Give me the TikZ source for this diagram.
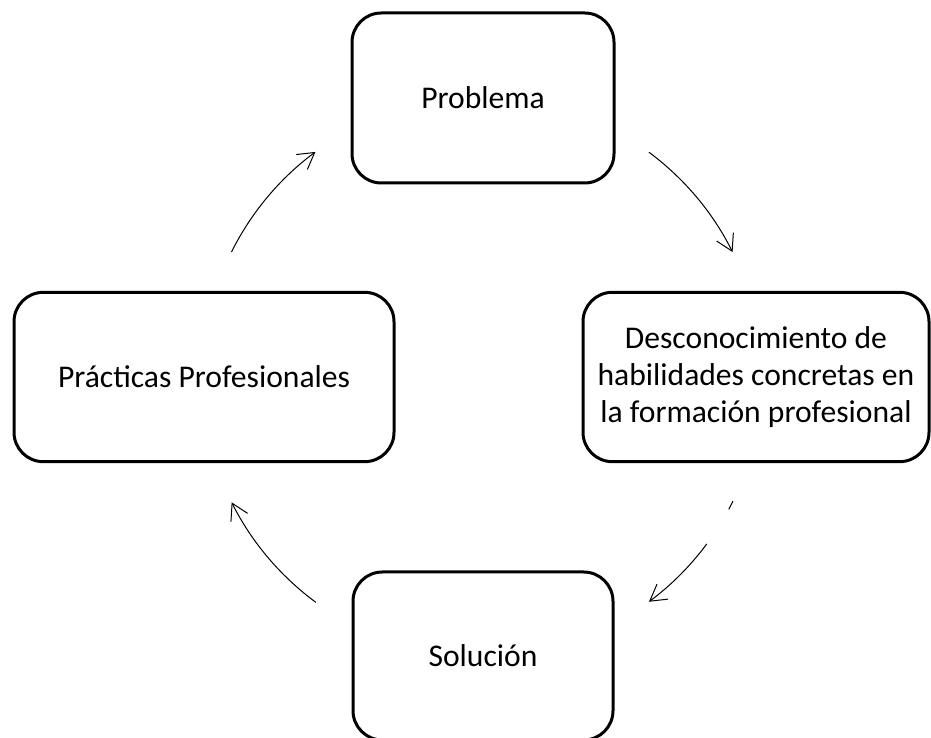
\documentclass[tikz,border=0pt]{standalone}
\usepackage{fontspec}
\setmainfont{Carlito}
\usepackage{tikz}
\usetikzlibrary{arrows.meta,calc,positioning}
\tikzstyle{box}=[rectangle, draw, line width=2.25pt, rounded corners=22pt,
  align=center, font=\fontsize{23.7}{27.5}\selectfont]
\tikzstyle{arr}=[line width=0.75pt, -{Straight Barb[length=12pt,width=14pt]}]

\begin{document}
\begin{tikzpicture}[x=0.75pt, y=0.75pt]
  \useasboundingbox (0,0) rectangle (931,738);
  \coordinate (c) at (482,361);
  % Problema
  \node[box, minimum width=196.5pt, minimum height=127.5pt]
    at ($(c)+(1,279)$) (prob) {Problema};
  % Desconocimiento
  \node[box, minimum width=259.5pt, minimum height=127pt]
    at ($(c)+(274,0)$) (desc) {Desconocimiento de\\habilidades concretas en\\la formación profesional};
  % Solucion
  \node[box, minimum width=195pt, minimum height=126pt]
    at ($(c)+(1,-279)$) (sol) {Solución};
  % Practicas
  \node[box, minimum width=285pt, minimum height=127pt]
    at ($(c)+(-278,0)$) (prac) {Prácticas Profesionales};
  % arcs
  \draw[arr] ($(c)+(53.4:280)$) arc[start angle=53.4, end angle=26.5, radius=280];
  \draw[line width=0.75pt] ($(c)+(-26.3:280)$) arc[start angle=-26.3, end angle=-28.2, radius=280];
  \draw[arr] ($(c)+(-36.6:280)$) arc[start angle=-36.6, end angle=-53.4, radius=280];
  \draw[arr] ($(c)+(-126.4:280)$) arc[start angle=-126.4, end angle=-153.4, radius=280];
  \draw[arr] ($(c)+(153.5:280)$) arc[start angle=153.5, end angle=126.5, radius=280];
\end{tikzpicture}
\end{document}
